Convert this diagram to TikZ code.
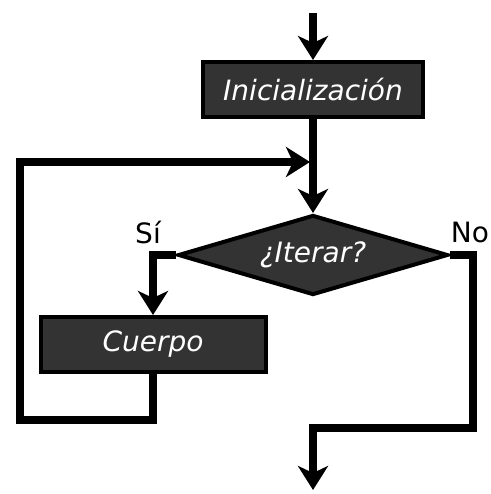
\documentclass[tikz,border=0pt]{standalone}
\usepackage{fontspec}
\newfontfamily\dv{DejaVu Sans}
\usetikzlibrary{shapes.geometric,arrows.meta}
\definecolor{boxfill}{HTML}{333333}
\tikzset{
  flow/.style={line width=8pt, draw=black, -{Stealth[length=24pt,width=30pt,inset=7pt]}},
  stepbox/.style={draw=black, line width=4pt, fill=boxfill, text=white,
    font=\dv\itshape\fontsize{28}{30}\selectfont, minimum height=55pt, inner sep=0pt},
  decision/.style={diamond, aspect=3.375, draw=black, line width=4pt, fill=boxfill, text=white,
    font=\dv\itshape\fontsize{28}{30}\selectfont, minimum width=270pt, minimum height=80pt, inner sep=0pt},
  lbl/.style={font=\dv\fontsize{28}{30}\selectfont, text=black, inner sep=0pt}
}
\begin{document}
\begin{tikzpicture}[x=1pt,y=-1pt]
\useasboundingbox[fill=white] (0,0) rectangle (490,494);
\node[stepbox, minimum width=220pt] (init) at (313,89.5) {Inicialización};
\node[decision] (iter) at (313,255) {¿Iterar?};
\node[stepbox, minimum width=225pt] (body) at (153,344.5) {Cuerpo};
\node[lbl] (lsi) at (148,232) {Sí};
\node[lbl] (lno) at (470,232) {No};
\coordinate (start) at (313,13);
\coordinate (j) at (310,162);
\coordinate (bl) at (20,420);
\coordinate (r1) at (473,428);
\coordinate (fin) at (313,490);
\draw[flow] (start) -- (init.north);
\draw[flow] (init.south) -- (iter.north);
\draw[flow] (iter.west) -| (body.north);
\draw[flow] (body.south) |- (bl) |- (j);
\draw[flow] (iter.east) -| (r1) -| (fin);
\end{tikzpicture}
\end{document}
